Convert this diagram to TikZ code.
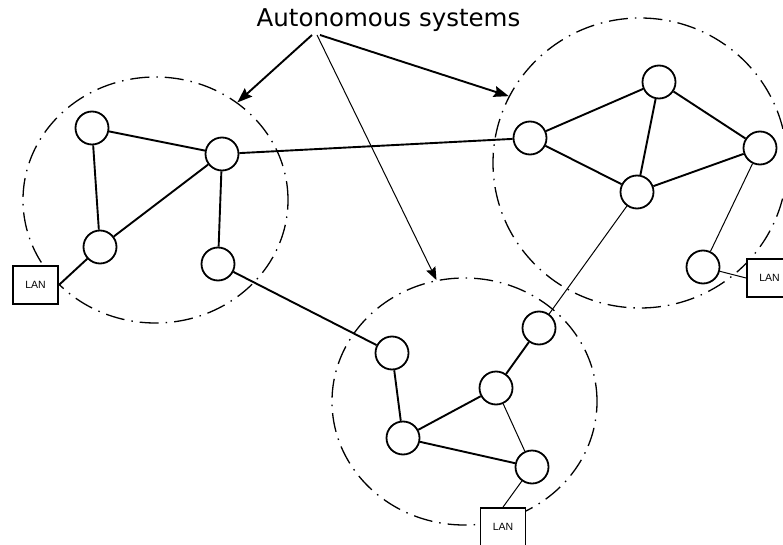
\documentclass[tikz,border=0pt]{standalone}
\usepackage{fontspec}
\newfontfamily\labelfont{DejaVu Sans}
\newfontfamily\lanfont{Liberation Sans}
\usetikzlibrary{arrows.meta,shapes.geometric}

\begin{document}
\begin{tikzpicture}[x=1pt,y=-1pt,>={Stealth[length=15pt,width=11pt,inset=2pt]},
  router/.style={circle,draw,fill=white,line width=1.8pt,minimum size=33pt,inner sep=0pt},
  lan/.style={rectangle,draw,fill=white,line width=1.8pt,minimum width=45pt,minimum height=38pt,
    inner sep=0pt,font=\lanfont\fontsize{10.5}{12}\selectfont},
  asarea/.style={ellipse,draw,line width=1.3pt,inner sep=0pt,
    dash pattern=on 19pt off 7pt on 1.5pt off 7pt},
  link/.style={line width=1.9pt},
  thinlink/.style={line width=1pt}]
  \clip (0,0) rectangle (783,545);

  % the three autonomous systems
  \node[asarea,minimum width=265pt,minimum height=246pt] (asL) at (155.5,200) {};
  \node[asarea,minimum width=294pt,minimum height=290pt] (asR) at (640,163) {};
  \node[asarea,minimum width=265pt,minimum height=247pt] (asB) at (464.5,401.5) {};

  \node[anchor=base,font=\labelfont\fontsize{24.5}{28}\selectfont] (title) at (388.5,27) {Autonomous systems};
  \coordinate (t1) at (312,35);
  \coordinate (t2) at (317,35);
  \coordinate (t3) at (320,35);
  \draw[->,link] (t1) -- (asL.50);
  \draw[->,thinlink,>={Stealth[length=13pt,width=10pt,inset=2pt]}] (t2) -- (asB.103);
  \draw[->,link] (t3) -- (asR.153);

  % left system
  \node[router] (a1) at (92,128) {};
  \node[router] (a2) at (222,154) {};
  \node[router] (a3) at (100,247) {};
  \node[router] (a4) at (218,264) {};
  \node[lan] (lanA) at (35.5,285) {LAN};

  % right system
  \node[router] (b1) at (659,82) {};
  \node[router] (b2) at (530,138) {};
  \node[router] (b3) at (637,192) {};
  \node[router] (b4) at (760,148) {};
  \node[router] (b5) at (703,267) {};
  \node[lan] (lanB) at (769.5,278) {LAN};

  % bottom system
  \node[router] (c1) at (392,353) {};
  \node[router] (c2) at (403,438) {};
  \node[router] (c3) at (496,388) {};
  \node[router] (c4) at (539,328) {};
  \node[router] (c5) at (532,467) {};
  \node[lan] (lanC) at (503,527) {LAN};

  \draw[link] (a1) -- (a2);
  \draw[link] (a1) -- (a3);
  \draw[link] (a3) -- (a2);
  \draw[link] (a2) -- (a4);
  \draw[link] (a3) -- (lanA.east);
  \draw[link] (a2) -- (b2);
  \draw[link] (a4) -- (c1);

  \draw[link] (b2) -- (b1);
  \draw[link] (b2) -- (b3);
  \draw[link] (b1) -- (b3);
  \draw[link] (b1) -- (b4);
  \draw[link] (b3) -- (b4);
  \draw[thinlink] (b4) -- (b5);
  \draw[thinlink] (b5) -- (lanB.west);
  \draw[thinlink] (b3) -- (c4);

  \draw[link] (c1) -- (c2);
  \draw[link] (c2) -- (c3);
  \draw[link] (c2) -- (c5);
  \draw[link] (c3) -- (c4);
  \draw[thinlink] (c3) -- (c5);
  \draw[thinlink] (c5) -- (lanC.north);
\end{tikzpicture}
\end{document}
